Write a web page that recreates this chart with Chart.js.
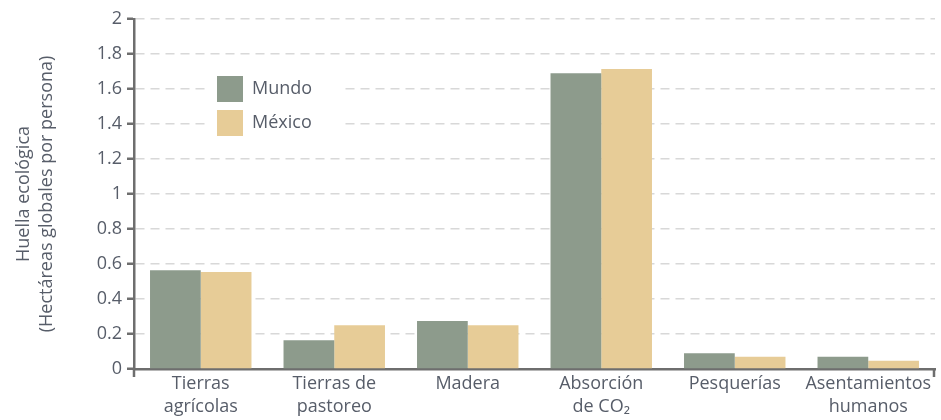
<!DOCTYPE html>
<html>
<head>
<meta charset="utf-8">
<script src="https://cdn.jsdelivr.net/npm/chart.js@4.4.1/dist/chart.umd.min.js"></script>
<style>
html,body{margin:0;padding:0;background:#fff;}
#wrap{width:941px;height:420px;}
</style>
</head>
<body>
<div id="wrap"><canvas id="c" width="941" height="420"></canvas></div>
<script>
const categories = [["Tierras","agrícolas"],["Tierras de","pastoreo"],["Madera"],["Absorción","de CO₂"],["Pesquerías"],["Asentamientos","humanos"]];
const mundo = [0.565, 0.165, 0.275, 1.69, 0.09, 0.07];
const mexico = [0.555, 0.25, 0.25, 1.715, 0.07, 0.047];
const seriesNames = ["Mundo","México"];
const yTicks = [0,0.2,0.4,0.6,0.8,1,1.2,1.4,1.6,1.8,2];
const yTitle = ["Huella ecológica","(Hectáreas globales por persona)"];

const FONT = "'Open Sans', sans-serif";
const TXT = '#575d69';
const AXIS = '#6e6e6e';

const extras = {
  id:'extras',
  afterDraw(chart){
    const ctx = chart.ctx, a = chart.chartArea;
    ctx.save();
    ctx.strokeStyle = AXIS; ctx.lineWidth = 2.5;
    ctx.beginPath();
    ctx.moveTo(a.left, a.bottom); ctx.lineTo(a.left, a.bottom+8);
    ctx.moveTo(a.right-1, a.bottom); ctx.lineTo(a.right-1, a.bottom+8);
    ctx.stroke();
    // legend
    const lx = 217, ly = 76;
    ctx.fillStyle = '#fff';
    ctx.fillRect(lx-12, ly-8, 136, 68);
    chart.data.datasets.forEach((ds,i)=>{
      const y = ly + i*34;
      ctx.fillStyle = ds.backgroundColor;
      ctx.fillRect(lx, y, 26, 26);
      ctx.fillStyle = TXT;
      ctx.font = "18px " + FONT;
      ctx.textBaseline = 'middle';
      ctx.textAlign = 'left';
      ctx.fillText(ds.label, lx+35, y+13);
    });
    ctx.restore();
  }
};

new Chart(document.getElementById('c'), {
  type:'bar',
  data:{
    labels: categories,
    datasets:[
      {label: seriesNames[0], data: mundo, backgroundColor:'#8d9b8c'},
      {label: seriesNames[1], data: mexico, backgroundColor:'#e7cc97'}
    ]
  },
  options:{
    responsive:false,
    animation:false,
    events:[],
    layout:{padding:{left:12,right:6,top:19,bottom:0}},
    plugins:{legend:{display:false},tooltip:{enabled:false}},
    datasets:{bar:{categoryPercentage:0.76,barPercentage:1.0}},
    scales:{
      x:{
        grid:{display:false, drawTicks:false},
        border:{color:AXIS,width:2.5},
        ticks:{color:TXT,font:{family:FONT,size:18,lineHeight:1.25},padding:4,maxRotation:0,autoSkip:false},
        afterFit(s){ s.height = 51; }
      },
      y:{
        min:0,max:2,
        afterBuildTicks(s){ s.ticks = yTicks.map(v=>({value:v})); },
        grid:{color:'#d8d8d8',lineWidth:1.5,tickColor:AXIS,tickLength:7,tickWidth:2.5,tickBorderDash:[]},
        border:{color:AXIS,width:2.5,dash:[9,6]},
        ticks:{color:TXT,font:{family:FONT,size:18},padding:5,callback:v=>String(v)},
        title:{display:true,text:yTitle,color:TXT,font:{family:FONT,size:18,lineHeight:1.3},padding:{top:0,bottom:8}},
        afterFit(s){ s.width = 122; }
      }
    }
  },
  plugins:[extras]
});
</script>
</body>
</html>
